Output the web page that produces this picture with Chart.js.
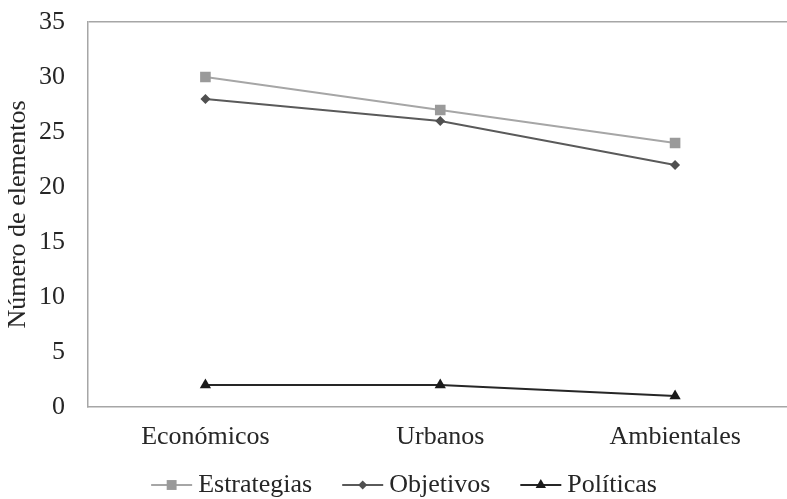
<!DOCTYPE html>
<html>
<head>
<meta charset="utf-8">
<script src="https://cdn.jsdelivr.net/npm/chart.js@4/dist/chart.umd.min.js"></script>
<style>
    html, body { margin: 0; padding: 0; background: #fff; overflow: hidden; }
    #wrap { width: 800px; height: 499px; }
</style>
</head>
<body>
<div id="wrap"><canvas id="chart"></canvas></div>
<script>
// Dane
const categories = ['Económicos', 'Urbanos', 'Ambientales'];
const estrategias = [30, 27, 24];
const objetivos = [28, 26, 22];
const politicas = [2, 2, 1];
const seriesNames = ['Estrategias', 'Objetivos', 'Políticas'];
const yMin = 0;
const yMax = 35;
const yStep = 5;

const FONT = '"Liberation Serif", "Times New Roman", serif';
const FONT_SIZE = 26;
const AXIS_GRAY = '#a6a6a6';

// Rysowanie znacznika w legendzie
function drawMarker(ctx, style, x, y, r, color) {
    ctx.fillStyle = color;
    ctx.beginPath();
    if (style === 'rect') {
        const s = Math.SQRT1_2 * r;
        ctx.rect(x - s, y - s, 2 * s, 2 * s);
    } else if (style === 'rectRot') {
        ctx.moveTo(x, y - r);
        ctx.lineTo(x + r, y);
        ctx.lineTo(x, y + r);
        ctx.lineTo(x - r, y);
        ctx.closePath();
    } else {
        ctx.moveTo(x, y - r);
        ctx.lineTo(x + r * Math.sin(2 * Math.PI / 3), y - r * Math.cos(2 * Math.PI / 3));
        ctx.lineTo(x - r * Math.sin(2 * Math.PI / 3), y - r * Math.cos(2 * Math.PI / 3));
        ctx.closePath();
    }
    ctx.fill();
}

// Legenda w stylu Excela: linia + znacznik + tekst
const lineLegend = {
    id: 'lineLegend',
    afterDraw(chart) {
        const ctx = chart.ctx;
        const sets = chart.data.datasets;
        const lineW = 41, gap = 6, itemGap = 30, y = 485;
        ctx.save();
        ctx.font = FONT_SIZE + 'px ' + FONT;
        ctx.textBaseline = 'middle';
        let total = 0;
        const widths = sets.map(ds => ctx.measureText(ds.label).width);
        widths.forEach((w, i) => { total += lineW + gap + w + (i < sets.length - 1 ? itemGap : 0); });
        let x = (chart.width - total) / 2 + 4;
        sets.forEach((ds, i) => {
            ctx.strokeStyle = ds.borderColor;
            ctx.lineWidth = ds.borderWidth;
            ctx.beginPath();
            ctx.moveTo(x, y);
            ctx.lineTo(x + lineW, y);
            ctx.stroke();
            drawMarker(ctx, ds.pointStyle, x + lineW / 2, y, ds.legendRadius, ds.pointBackgroundColor);
            ctx.fillStyle = '#262626';
            ctx.textAlign = 'left';
            ctx.fillText(ds.label, x + lineW + gap, y);
            x += lineW + gap + widths[i] + itemGap;
        });
        ctx.restore();
    }
};

const ctx = document.getElementById('chart').getContext('2d');
const chart = new Chart(ctx, {
    type: 'line',
    data: {
        labels: categories,
        datasets: [
            {
                label: seriesNames[0],
                data: estrategias,
                borderColor: '#a6a6a6',
                borderWidth: 1.8,
                pointStyle: 'rect',
                pointRadius: 7.5,
                legendRadius: 7,
                pointBackgroundColor: '#9a9a9a',
                pointBorderColor: '#9a9a9a',
                pointBorderWidth: 0
            },
            {
                label: seriesNames[1],
                data: objetivos,
                borderColor: '#5a5a5a',
                borderWidth: 1.8,
                pointStyle: 'rectRot',
                pointRadius: 5,
                legendRadius: 4.5,
                pointBackgroundColor: '#505050',
                pointBorderColor: '#505050',
                pointBorderWidth: 0
            },
            {
                label: seriesNames[2],
                data: politicas,
                borderColor: '#262626',
                borderWidth: 1.8,
                pointStyle: 'triangle',
                pointRadius: 6.5,
                legendRadius: 6,
                pointBackgroundColor: '#1a1a1a',
                pointBorderColor: '#1a1a1a',
                pointBorderWidth: 0
            }
        ]
    },
    options: {
        responsive: true,
        maintainAspectRatio: false,
        animation: false,
        layout: { padding: { top: 22, right: 0, bottom: 42, left: 0 } },
        plugins: {
            legend: { display: false },
            tooltip: { enabled: false }
        },
        scales: {
            x: {
                offset: true,
                grid: { display: false, drawTicks: false },
                border: { display: true, color: AXIS_GRAY, width: 1.5 },
                ticks: {
                    color: '#262626',
                    padding: 15,
                    font: { family: FONT, size: FONT_SIZE }
                },
                afterFit(scale) { scale.height = 50; }
            },
            y: {
                min: yMin,
                max: yMax,
                grid: {
                    drawTicks: false,
                    color: c => (c.tick && c.tick.value === yMax) ? AXIS_GRAY : 'rgba(0,0,0,0)',
                    lineWidth: 1.5
                },
                border: { display: true, color: AXIS_GRAY, width: 1.5 },
                ticks: {
                    stepSize: yStep,
                    color: '#262626',
                    padding: 23,
                    font: { family: FONT, size: FONT_SIZE }
                },
                title: {
                    display: true,
                    text: 'Número de elementos',
                    color: '#262626',
                    padding: { top: 3, bottom: 0 },
                    font: { family: FONT, size: FONT_SIZE }
                },
                afterFit(scale) {
                    scale.width = 88;
                    scale.paddingTop = 0;
                    scale.paddingBottom = 0;
                }
            }
        }
    },
    plugins: [lineLegend]
});
</script>
</body>
</html>
